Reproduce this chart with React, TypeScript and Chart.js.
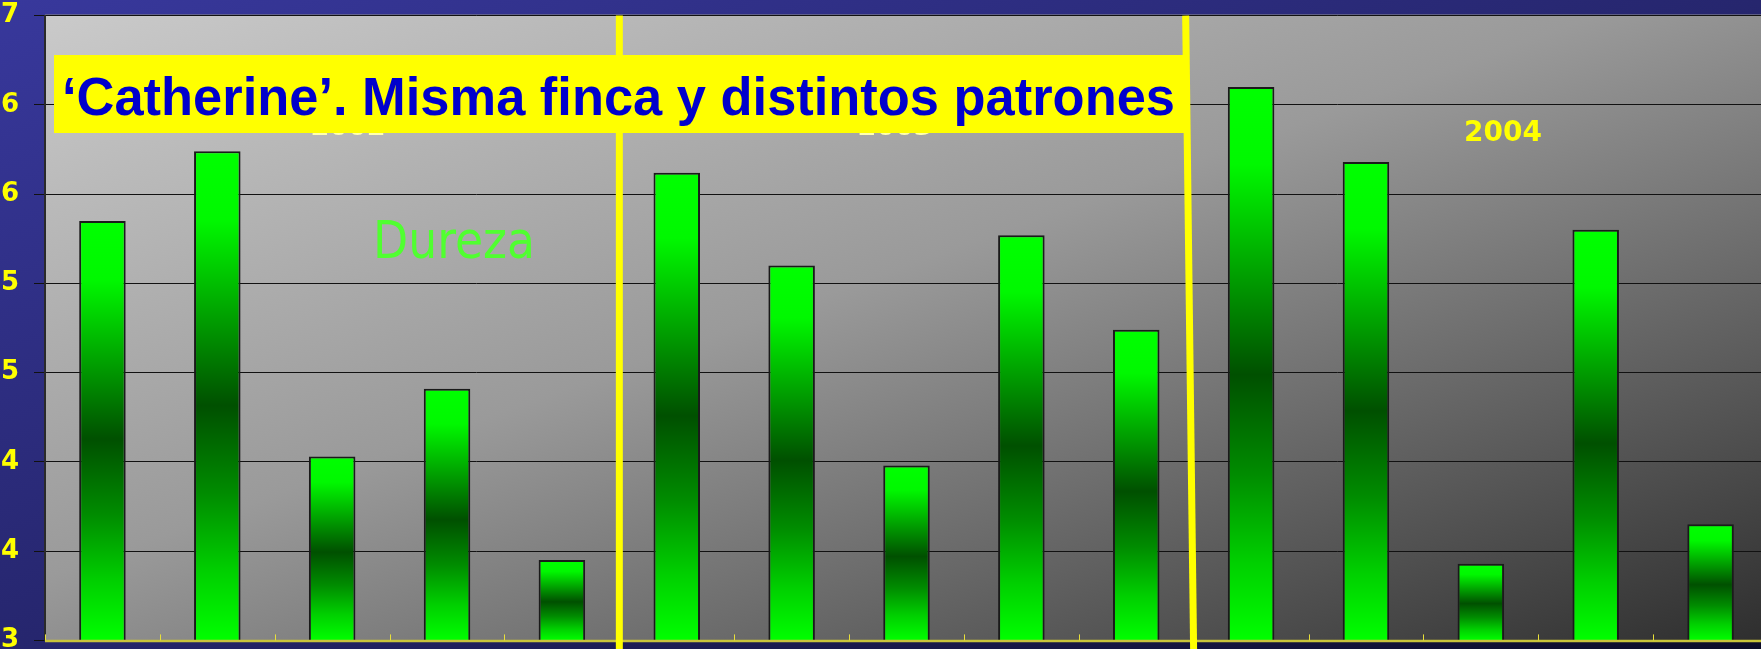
import React, { useEffect, useRef } from "react";
import { Chart, registerables } from "chart.js";

Chart.register(...registerables);

// ---- Data ----
const categories = [
  "2002 · Patrón 1", "2002 · Patrón 2", "2002 · Patrón 3", "2002 · Patrón 4", "2002 · Patrón 5",
  "2003 · Patrón 1", "2003 · Patrón 2", "2003 · Patrón 3", "2003 · Patrón 4", "2003 · Patrón 5",
  "2004 · Patrón 1", "2004 · Patrón 2", "2004 · Patrón 3", "2004 · Patrón 4", "2004 · Patrón 5",
];
const dureza = [5.35, 5.74, 4.03, 4.41, 3.45, 5.62, 5.1, 3.98, 5.27, 4.74, 6.1, 5.68, 3.43, 5.3, 3.65];
const yTickLabels = ["3", "4", "4", "5", "5", "6", "6", "7"];
const yearLabels = ["2002", "2003", "2004"];
const seriesName = "Dureza";
const titleText = "\u2018Catherine\u2019. Misma finca y distintos patrones";

const PAGE_W = 1761;
const PAGE_H = 649;
const CANVAS_W = 1769;
const CANVAS_H = 686;
const OFF_Y = 15; // canvas is shifted up by this many pixels

function diagGradient(ctx: CanvasRenderingContext2D, x: number, y: number, w: number, h: number, stops: [number, string][]) {
  const t = (2 * w * h) / (w * w + h * h);
  const g = ctx.createLinearGradient(x, y, x + h * t, y + w * t);
  stops.forEach(([o, c]) => g.addColorStop(o, c));
  return g;
}

function stretchText(ctx: CanvasRenderingContext2D, text: string, x: number, baseline: number, width: number) {
  const w = ctx.measureText(text).width;
  ctx.save();
  ctx.translate(x, baseline);
  ctx.scale(width / w, 1);
  ctx.textAlign = "left";
  ctx.textBaseline = "alphabetic";
  ctx.fillText(text, 0, 0);
  ctx.restore();
}

const backgroundPlugin = {
  id: "bgPlugin",
  beforeDraw(chart: any) {
    const { ctx, chartArea: a } = chart;
    ctx.save();
    ctx.fillStyle = diagGradient(ctx, 0, OFF_Y, PAGE_W, PAGE_H, [
      [0, "#38389c"],
      [0.5, "#26266e"],
      [1, "#0c0c28"],
    ]);
    ctx.fillRect(0, 0, chart.width, chart.height);
    ctx.fillStyle = diagGradient(ctx, a.left, a.top, a.right - a.left, a.bottom - a.top, [
      [0, "#cacaca"],
      [0.45, "#9a9a9a"],
      [1, "#2e2e2e"],
    ]);
    ctx.fillRect(a.left, a.top, a.right - a.left, a.bottom - a.top);
    ctx.strokeStyle = "#70708a";
    ctx.lineWidth = 1.5;
    ctx.beginPath();
    ctx.moveTo(a.left, a.top - 0.5);
    ctx.lineTo(a.right, a.top - 0.5);
    ctx.stroke();
    ctx.restore();
  },
};

const decorPlugin = {
  id: "decorPlugin",
  afterDatasetsDraw(chart: any) {
    const { ctx, chartArea: a, scales } = chart;
    const x = scales.x;
    const n = categories.length;
    const boundary = (i: number) =>
      i === 0 ? a.left : i === n ? a.right : (x.getPixelForValue(i - 1) + x.getPixelForValue(i)) / 2;
    ctx.save();
    ctx.strokeStyle = "#c9c43a";
    ctx.lineWidth = 2.5;
    ctx.beginPath();
    ctx.moveTo(a.left, a.bottom + 0.5);
    ctx.lineTo(a.right, a.bottom + 0.5);
    ctx.stroke();
    ctx.strokeStyle = "#e8e03a";
    ctx.lineWidth = 1;
    for (let i = 0; i <= n; i++) {
      const bx = Math.round(boundary(i)) + 0.5;
      ctx.beginPath();
      ctx.moveTo(bx, a.bottom - 6);
      ctx.lineTo(bx, a.bottom);
      ctx.stroke();
    }
    ctx.strokeStyle = "#ffff00";
    ctx.lineWidth = 7;
    const b5 = boundary(5);
    const b10 = boundary(10);
    ctx.beginPath();
    ctx.moveTo(b5, a.top);
    ctx.lineTo(b5, PAGE_H + OFF_Y + 5);
    ctx.stroke();
    ctx.beginPath();
    ctx.moveTo(b10 - 8, a.top);
    ctx.lineTo(b10, PAGE_H + OFF_Y + 5);
    ctx.stroke();

    // annotations placed in page coordinates
    ctx.translate(0, OFF_Y);
    ctx.font = 'bold 27px "DejaVu Sans", sans-serif';
    ctx.textAlign = "center";
    ctx.textBaseline = "middle";
    ctx.fillStyle = "#ffffb0";
    ctx.fillText(yearLabels[0], 348, 128);
    ctx.fillText(yearLabels[1], 895, 128);

    ctx.fillStyle = "#ffff00";
    ctx.fillRect(54, 55, 1130, 78);
    ctx.fillStyle = "#0000cc";
    ctx.font = 'bold 54px "Comic Sans MS", "Liberation Sans", sans-serif';
    stretchText(ctx, titleText, 62, 115, 1113);

    ctx.font = 'bold 28px "DejaVu Sans", sans-serif';
    ctx.textAlign = "center";
    ctx.textBaseline = "middle";
    ctx.fillStyle = "#ffff00";
    ctx.fillText(yearLabels[2], 1503, 134);

    ctx.fillStyle = "#50ff30";
    ctx.font = '52px "Comic Sans MS", "DejaVu Sans", sans-serif';
    stretchText(ctx, seriesName, 373, 258, 162);
    ctx.restore();
  },
};

export default function App() {
  const ref = useRef<HTMLCanvasElement>(null);
  useEffect(() => {
    const canvas = ref.current!;
    const chart = new Chart(canvas, {
      type: "bar",
      data: {
        labels: categories,
        datasets: [
          {
            label: seriesName,
            data: dureza,
            backgroundColor: (c: any) => {
              const ch = c.chart;
              if (!ch.chartArea || c.raw == null) return "#00ff00";
              const ys = ch.scales.y;
              const top = ys.getPixelForValue(c.raw);
              const bottom = ys.getPixelForValue(ys.min);
              const g = ch.ctx.createLinearGradient(0, top, 0, bottom);
              g.addColorStop(0, "#00ff00");
              g.addColorStop(0.14, "#00f800");
              g.addColorStop(0.32, "#00a800");
              g.addColorStop(0.52, "#005000");
              g.addColorStop(0.7, "#008c00");
              g.addColorStop(0.86, "#00d000");
              g.addColorStop(1, "#00ff00");
              return g;
            },
            borderColor: "#1a1a1a",
            borderWidth: 2,
            borderSkipped: false,
            barPercentage: 0.405,
            categoryPercentage: 1,
          },
        ],
      },
      options: {
        responsive: false,
        animation: false,
        devicePixelRatio: 1,
        events: [],
        layout: { padding: { left: 0, right: 1, top: 0, bottom: 0 } },
        plugins: {
          legend: { display: false },
          tooltip: { enabled: false },
          title: { display: false },
        },
        scales: {
          x: { display: false, grid: { display: false } },
          y: {
            min: 3,
            max: 6.5,
            afterFit: (s: any) => {
              s.width = 45;
            },
            ticks: {
              stepSize: 0.5,
              color: "#ffff00",
              font: { family: '"DejaVu Sans", sans-serif', weight: "bold", size: 26, lineHeight: 1.2 },
              padding: 15,
              callback: (_v: any, i: number) => yTickLabels[i],
            },
            grid: { color: "#111111", lineWidth: 1, tickLength: 11, tickColor: "#111111" },
            border: { color: "#2a2a2a", width: 2 },
          },
        },
      },
      plugins: [backgroundPlugin, decorPlugin],
    } as any);
    return () => chart.destroy();
  }, []);
  return (
    <div
      style={{
        position: "fixed",
        left: 0,
        top: 0,
        width: PAGE_W,
        height: PAGE_H,
        overflow: "hidden",
        background: "#22226a",
      }}
    >
      <canvas
        ref={ref}
        width={CANVAS_W}
        height={CANVAS_H}
        style={{ display: "block", width: CANVAS_W, height: CANVAS_H, marginTop: -OFF_Y }}
      />
    </div>
  );
}
